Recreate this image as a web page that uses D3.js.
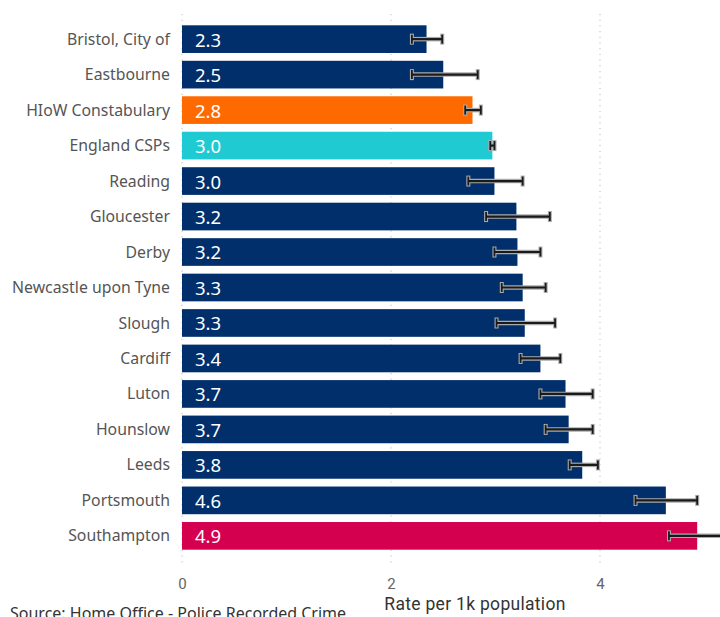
<!DOCTYPE html>
<html>
<head>
<meta charset="utf-8">
<script src="https://cdn.jsdelivr.net/npm/d3@7"></script>
<style>
  body { margin: 0; background: #fff; }
  svg { display: block; }
</style>
</head>
<body>
<div id="chart"></div>
<script>
// values
const areas = ["Bristol, City of", "Eastbourne", "HIoW Constabulary", "England CSPs", "Reading",
  "Gloucester", "Derby", "Newcastle upon Tyne", "Slough", "Cardiff", "Luton", "Hounslow",
  "Leeds", "Portsmouth", "Southampton"];
const rates = [2.34, 2.50, 2.78, 2.97, 2.99, 3.20, 3.21, 3.26, 3.28, 3.43, 3.67, 3.70, 3.83, 4.63, 4.93];
const rateLabels = ["2.3", "2.5", "2.8", "3.0", "3.0", "3.2", "3.2", "3.3", "3.3", "3.4", "3.7", "3.7", "3.8", "4.6", "4.9"];
const lowerCI = [2.20, 2.20, 2.71, 2.95, 2.74, 2.91, 2.99, 3.06, 3.01, 3.24, 3.43, 3.48, 3.71, 4.34, 4.66];
const upperCI = [2.49, 2.83, 2.86, 2.99, 3.26, 3.52, 3.43, 3.48, 3.57, 3.62, 3.93, 3.93, 3.98, 4.93, 5.25];
const xTicks = [0, 2, 4];

const colourFor = name => {
  if (name === "HIoW Constabulary") return "#ff6a00";
  if (name === "England CSPs") return "#1fcad3";
  if (name === "Southampton") return "#d4004f";
  return "#012f6b";
};

const data = areas.map((a, i) => ({
  area: a, rate: rates[i], label: rateLabels[i], lo: lowerCI[i], hi: upperCI[i]
}));

const width = 720, height = 617;
const svg = d3.select("#chart").append("svg")
  .attr("width", width).attr("height", height);

const x = d3.scaleLinear().domain([0, 4]).range([182, 600]);
const y = d3.scaleBand().domain(areas).range([17.5, 557.5]).padding(0.22);

// dotted gridlines
svg.append("g").selectAll("line")
  .data(xTicks)
  .join("line")
  .attr("x1", d => x(d)).attr("x2", d => x(d))
  .attr("y1", 14).attr("y2", 566)
  .attr("stroke", "#c8c8c8")
  .attr("stroke-width", 1.2)
  .attr("stroke-dasharray", "1.2,4.5");

// bars
svg.append("g").selectAll("rect")
  .data(data)
  .join("rect")
  .attr("x", x(0))
  .attr("y", d => y(d.area))
  .attr("width", d => x(d.rate) - x(0))
  .attr("height", y.bandwidth())
  .attr("fill", d => colourFor(d.area));

// value labels inside bars
svg.append("g").selectAll("text")
  .data(data)
  .join("text")
  .attr("x", x(0) + 13)
  .attr("y", d => y(d.area) + y.bandwidth() / 2 + 1)
  .attr("dy", "0.35em")
  .attr("fill", "#fff")
  .style("font-family", "'Noto Sans', 'Open Sans', sans-serif")
  .style("font-size", "18.5px")
  .text(d => d.label);

// error bars
const err = svg.append("g");
data.forEach(d => {
  const cy = y(d.area) + y.bandwidth() / 2;
  err.append("line")
    .attr("x1", x(d.lo)).attr("x2", x(d.hi))
    .attr("y1", cy).attr("y2", cy)
    .attr("stroke", "#aaa").attr("stroke-width", 4.5);
  [d.lo, d.hi].forEach(v => {
    err.append("line")
      .attr("x1", x(v)).attr("x2", x(v))
      .attr("y1", cy - 5.5).attr("y2", cy + 5.5)
      .attr("stroke", "#aaa").attr("stroke-width", 4);
  });
  err.append("line")
    .attr("x1", x(d.lo)).attr("x2", x(d.hi))
    .attr("y1", cy).attr("y2", cy)
    .attr("stroke", "#1a1a1a").attr("stroke-width", 2.2);
  [d.lo, d.hi].forEach(v => {
    err.append("line")
      .attr("x1", x(v)).attr("x2", x(v))
      .attr("y1", cy - 4.5).attr("y2", cy + 4.5)
      .attr("stroke", "#1a1a1a").attr("stroke-width", 1.8);
  });
});

// category labels
svg.append("g").selectAll("text")
  .data(data)
  .join("text")
  .attr("x", 170)
  .attr("y", d => y(d.area) + y.bandwidth() / 2)
  .attr("dy", "0.35em")
  .attr("text-anchor", "end")
  .attr("fill", "#555")
  .style("font-family", "'Noto Sans', 'Open Sans', sans-serif")
  .style("font-size", "15.8px")
  .text(d => d.area);

// x axis
const xAxis = svg.append("g")
  .attr("transform", "translate(0,570)")
  .call(d3.axisBottom(x).tickValues(xTicks).tickSize(0).tickPadding(8).tickFormat(d3.format("d")));
xAxis.select(".domain").remove();
xAxis.selectAll("text")
  .attr("fill", "#666")
  .style("font-family", "Roboto, sans-serif")
  .style("font-size", "15px");

svg.append("text")
  .attr("x", 475)
  .attr("y", 610)
  .attr("text-anchor", "middle")
  .attr("fill", "#333")
  .style("font-family", "Roboto, sans-serif")
  .style("font-size", "17.5px")
  .style("letter-spacing", "0.3px")
  .text("Rate per 1k population");

svg.append("text")
  .attr("x", 10)
  .attr("y", 619)
  .attr("fill", "#333")
  .style("font-family", "'Noto Sans', 'Open Sans', sans-serif")
  .style("font-size", "16px")
  .text("Source: Home Office - Police Recorded Crime");
</script>
</body>
</html>
